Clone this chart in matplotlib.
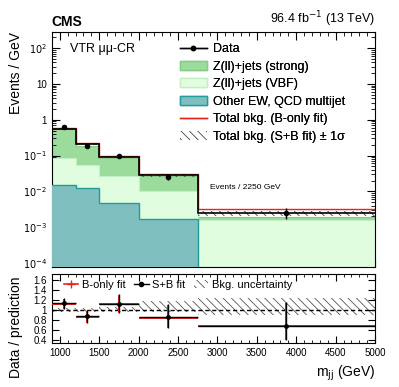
import numpy as np
import matplotlib
matplotlib.use("Agg")
import matplotlib.pyplot as plt
from matplotlib.patches import Patch
from matplotlib.lines import Line2D
from matplotlib.ticker import MultipleLocator, LogLocator, NullFormatter, FixedLocator

plt.rcParams['font.family'] = ['Liberation Sans', 'DejaVu Sans']
plt.rcParams['hatch.linewidth'] = 0.6

# bin edges in mjj (GeV)
edges = np.array([900, 1200, 1500, 2000, 2750, 5000])
centers = 0.5 * (edges[1:] + edges[:-1])

# stacked backgrounds (events / GeV), cumulative tops
other_ew = [0.015, 0.0123, 0.0047, 0.00166, 1e-6]
vbf_top = [0.085, 0.055, 0.026, 0.0102, 0.0016]
strong_top = [0.54, 0.19, 0.085, 0.026, 0.0019]
total_sb = [0.56, 0.21, 0.092, 0.028, 0.00245]
total_b = [0.60, 0.22, 0.096, 0.031, 0.0033]
sb_unc = [0.06, 0.06, 0.07, 0.10, 0.15]

# data
data = [0.62, 0.185, 0.10, 0.025, 0.00245]
data_lo = [0.57, 0.165, 0.092, 0.021, 0.0017]
data_hi = [0.67, 0.205, 0.108, 0.031, 0.0034]

# ratio panel
ratio_sb = [1.14, 0.878, 1.13, 0.86, 0.695]
ratio_sb_lo = [1.03, 0.75, 0.94, 0.65, 0.40]
ratio_sb_hi = [1.24, 1.01, 1.32, 1.12, 1.16]
ratio_b = [1.13, 0.87, 1.12, 0.85, 0.685]
unc_lo = [0.96, 0.96, 0.96, 0.97, 0.91]
unc_hi = [1.05, 1.05, 1.06, 1.18, 1.24]

c_strong = '#9bdb9b'
c_vbf = '#e0fde0'
c_other = '#7fbfbf'
c_other_edge = '#239b9b'

fig = plt.figure(figsize=(3.99, 3.87), dpi=100)
ax = fig.add_axes([0.130, 0.310, 0.810, 0.607])
rax = fig.add_axes([0.130, 0.114, 0.810, 0.178])

base = 1e-6
ax.stairs(strong_top, edges, baseline=base, fill=True, color=c_strong, zorder=1)
ax.stairs(strong_top, edges, baseline=None, color='#86cc86', lw=0.8, zorder=1.1)
ax.stairs(vbf_top, edges, baseline=base, fill=True, color=c_vbf, zorder=2)
ax.stairs(vbf_top, edges, baseline=None, color='#c4efc4', lw=0.8, zorder=2.1)
ax.stairs(other_ew, edges, baseline=base, fill=True, color=c_other, zorder=3)
ax.stairs(other_ew, edges, baseline=None, color=c_other_edge, lw=1.0, zorder=3.1)

# S+B band
tot = np.array(total_sb)
unc = np.array(sb_unc)
ax.stairs(tot * (1 + unc), edges, baseline=tot * (1 - unc), fill=True,
          facecolor='none', edgecolor='#444444', hatch='\\\\\\\\', lw=0, zorder=4)
ax.stairs(total_b, edges, baseline=None, color='#e8231e', lw=1.0, zorder=5)
ax.stairs(total_sb, edges, baseline=None, color='black', lw=1.2, zorder=6)

d = np.array(data)
ax.errorbar(centers, d, yerr=[d - np.array(data_lo), np.array(data_hi) - d],
            fmt='o', color='black', ms=3, lw=1, capsize=0, zorder=7)

ax.set_yscale('log')
ax.set_xlim(900, 5000)
ax.set_ylim(7.7e-5, 2.8e2)
ax.set_ylabel('Events / GeV', fontsize=10, loc='top')
ax.yaxis.set_major_locator(FixedLocator([1e-4, 1e-3, 1e-2, 1e-1, 1, 10, 100]))
ax.set_yticklabels(['$10^{-4}$', '$10^{-3}$', '$10^{-2}$', '$10^{-1}$', '1', '10', '$10^{2}$'])
ax.yaxis.set_minor_locator(LogLocator(base=10, subs=np.arange(2, 10), numticks=20))
ax.yaxis.set_minor_formatter(NullFormatter())
ax.xaxis.set_minor_locator(MultipleLocator(100))
ax.xaxis.set_major_locator(MultipleLocator(500))
ax.tick_params(axis='both', which='both', direction='in', top=True, right=True,
               labelbottom=False, labelsize=7)
ax.tick_params(which='major', length=6)
ax.tick_params(which='minor', length=3)

ax.text(0.0, 1.015, 'CMS', transform=ax.transAxes, fontsize=10, fontweight='bold',
        ha='left', va='bottom')
ax.text(1.0, 1.015, '96.4 fb$^{-1}$ (13 TeV)', transform=ax.transAxes, fontsize=9,
        ha='right', va='bottom')
ax.text(0.055, 0.93, 'VTR μμ-CR', transform=ax.transAxes, fontsize=9, ha='left', va='center')
ax.text(0.49, 0.34, 'Events / 2250 GeV', transform=ax.transAxes, fontsize=6, ha='left', va='center')

handles = [
    Line2D([0], [0], color='black', marker='o', ms=3, lw=1),
    Patch(facecolor=c_strong, edgecolor='#86cc86'),
    Patch(facecolor=c_vbf, edgecolor='#c4efc4'),
    Patch(facecolor=c_other, edgecolor=c_other_edge),
    Line2D([0], [0], color='#e8231e', lw=1),
    Patch(facecolor='white', edgecolor='#444444', hatch='\\\\\\\\', lw=0),
]
labels = ['Data', 'Z(ll)+jets (strong)', 'Z(ll)+jets (VBF)', 'Other EW, QCD multijet',
          'Total bkg. (B-only fit)', 'Total bkg. (S+B fit) ± 1σ']
leg = ax.legend(handles, labels, loc='upper left', bbox_to_anchor=(0.38, 0.975),
                frameon=False, fontsize=9, handlelength=2.2, handletextpad=0.5,
                labelspacing=0.45, borderaxespad=0)
ax.add_artist(leg)

# ratio panel
ulo = np.array(unc_lo)
uhi = np.array(unc_hi)
rax.stairs(uhi, edges, baseline=ulo, fill=True, facecolor='none', edgecolor='#555555',
           hatch='\\\\\\\\', lw=0, zorder=1)
rax.axhline(1.0, color='black', ls=(0, (3, 2)), lw=1, zorder=2)
xerr = 0.5 * (edges[1:] - edges[:-1])
rb = np.array(ratio_b)
rs = np.array(ratio_sb)
rax.errorbar(centers, rb, xerr=xerr, yerr=[rs - np.array(ratio_sb_lo) - 0.01, np.array(ratio_sb_hi) - rs - 0.01],
             fmt='none', ecolor='#e8231e', lw=1.4, capsize=0, zorder=3)
rax.errorbar(centers, rs, xerr=xerr, yerr=[rs - np.array(ratio_sb_lo), np.array(ratio_sb_hi) - rs],
             fmt='o', color='black', ms=2.5, lw=1, capsize=0, zorder=4)
rax.set_xlim(900, 5000)
rax.set_ylim(0.35, 1.72)
rax.yaxis.set_major_locator(FixedLocator([0.4, 0.6, 0.8, 1.0, 1.2, 1.4, 1.6]))
rax.set_yticklabels(['0.4', '0.6', '0.8', '1', '1.2', '1.4', '1.6'])
rax.xaxis.set_major_locator(MultipleLocator(500))
rax.xaxis.set_minor_locator(MultipleLocator(100))
rax.tick_params(axis='both', which='both', direction='in', top=True, right=True, labelsize=7)
rax.tick_params(which='major', length=5)
rax.tick_params(which='minor', length=2.5)
rax.set_ylabel('Data / prediction', fontsize=10)
rax.yaxis.set_label_coords(-0.088, 0.22)
ax.yaxis.set_label_coords(-0.088, 1.0)
rax.set_xlabel('m$_{\\mathrm{jj}}$ (GeV)', fontsize=10, loc='right')

rhandles = [
    Line2D([0], [0], color='#e8231e', marker='+', ms=6, lw=1.2),
    Line2D([0], [0], color='black', marker='o', ms=3, lw=1),
    Patch(facecolor='white', edgecolor='#555555', hatch='\\\\\\\\', lw=0),
]
rax.legend(rhandles, ['B-only fit', 'S+B fit', 'Bkg. uncertainty'], loc='upper left',
           bbox_to_anchor=(0.02, 1.0), ncol=3, frameon=False, fontsize=8,
           handlelength=1.3, handletextpad=0.3, columnspacing=0.8, borderaxespad=0.1)

fig.savefig('out.png', dpi=100)
